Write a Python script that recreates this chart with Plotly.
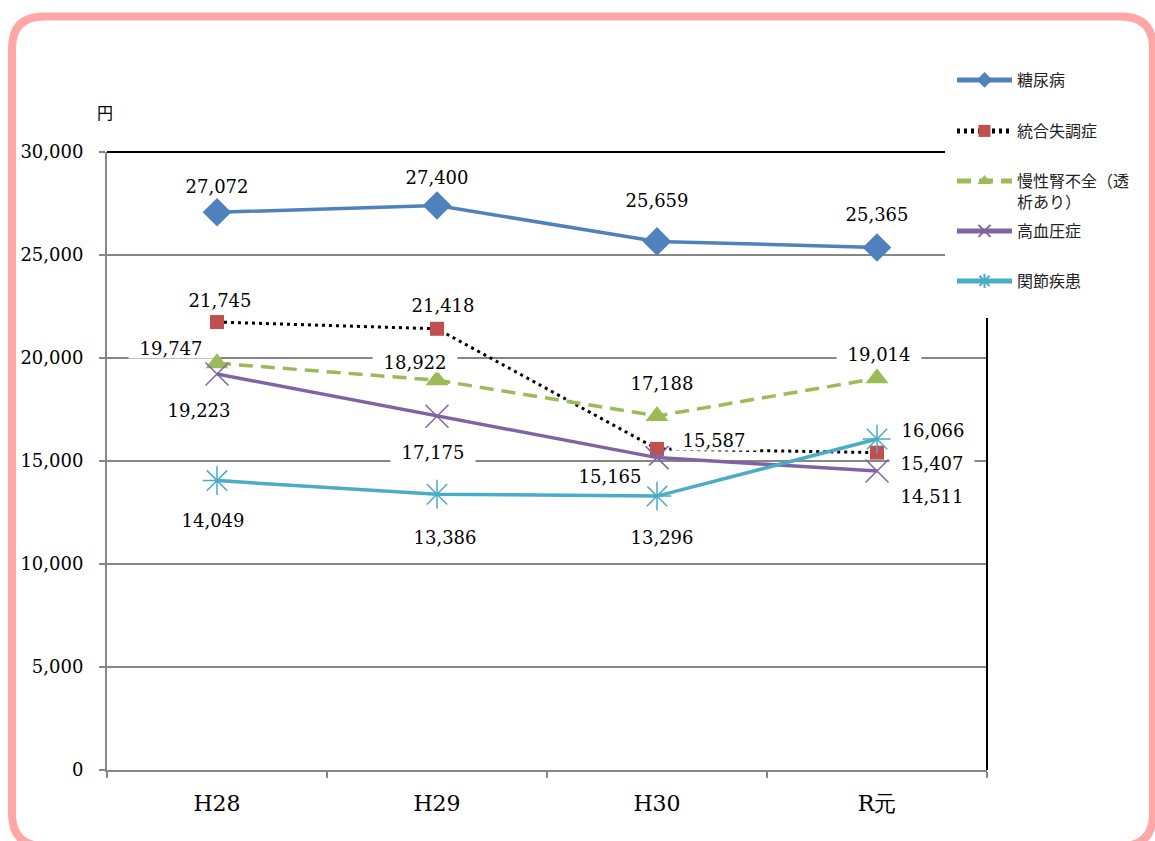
import plotly.graph_objects as go

# ---- data ----
categories = ["H28", "H29", "H30", "R元"]
diabetes = [27072, 27400, 25659, 25365]          # 糖尿病
schizophrenia = [21745, 21418, 15587, 15407]     # 統合失調症
renal = [19747, 18922, 17188, 19014]             # 慢性腎不全（透析あり）
hypertension = [19223, 17175, 15165, 14511]      # 高血圧症
joint = [14049, 13386, 13296, 16066]             # 関節疾患
series_names = ["糖尿病", "統合失調症", "慢性腎不全（透<br>析あり）", "高血圧症", "関節疾患"]
y_ticks = [0, 5000, 10000, 15000, 20000, 25000, 30000]

# ---- label offsets (px: dx, dy up) ----
label_offsets = [
    [(0, 26), (0, 29), (0, 41), (0, 33)],
    [(3, 22), (6, 24), (57, 9), (55, -10)],
    [(-46, 15), (-22, 18), (5, 33), (2, 24)],
    [(-18, -36), (-4, -36), (-47, -18), (55, -25)],
    [(-4, -39), (8, -43), (5, -41), (56, 9)],
]
legend_centers = [80, 131, 181, 231, 281]

W, H = 1155, 841
L, R, T, B = 107, 987, 152, 770
YMAX = 30000


def px(x, y):
    return (x - L) / (R - L), (B - y) / (B - T)


colors = ["#4F81BD", "#C0504D", "#9BBB59", "#8064A2", "#4BACC6"]
all_series = [diabetes, schizophrenia, renal, hypertension, joint]
line_styles = [
    dict(color=colors[0], width=3.5),
    dict(color="black", width=3, dash="3px,4px"),
    dict(color=colors[2], width=3.5, dash="14px,8px"),
    dict(color=colors[3], width=3.5),
    dict(color=colors[4], width=3.5),
]
markers = [
    dict(symbol="diamond", size=22, color=colors[0]),
    dict(symbol="square", size=14, color=colors[1]),
    dict(symbol="triangle-up", size=20, color=colors[2]),
    dict(symbol="x-thin-open", size=23, color=colors[3], line=dict(width=1.5, color=colors[3])),
    dict(symbol="asterisk-open", size=24, color=colors[4], line=dict(width=1.5, color=colors[4])),
]

legend_names = ["legend", "legend2", "legend3", "legend4", "legend5"]

fig = go.Figure()
for i, vals in enumerate(all_series):
    fig.add_trace(go.Scatter(
        x=categories, y=vals, name=series_names[i], mode="lines+markers",
        line=line_styles[i], marker=markers[i], legend=legend_names[i],
        cliponaxis=False,
    ))

num_font = dict(family="DejaVu Serif", size=18, color="black")
annotations = []
for i, vals in enumerate(all_series):
    for j, v in enumerate(vals):
        dx, dy = label_offsets[i][j]
        annotations.append(dict(
            x=categories[j], y=v, xref="x", yref="y", text=f"{v:,}",
            showarrow=False, xshift=dx, yshift=dy, font=num_font,
            bgcolor="white", width=84, height=20, borderpad=0,
        ))

annotations.append(dict(x=px(105, 112)[0], y=px(105, 112)[1], xref="paper", yref="paper",
                        xanchor="center", yanchor="middle",
                        text="円", showarrow=False,
                        font=dict(family="Noto Sans CJK JP", size=16, color="black")))


# pink rounded border
def rounded_path(x0, y0, x1, y1, r):
    def P(x, y):
        a, b = px(x, y)
        return f"{a:.5f},{b:.5f}"
    d = f"M {P(x0 + r, y0)} L {P(x1 - r, y0)} Q {P(x1, y0)} {P(x1, y0 + r)} "
    d += f"L {P(x1, y1 - r)} Q {P(x1, y1)} {P(x1 - r, y1)} "
    d += f"L {P(x0 + r, y1)} Q {P(x0, y1)} {P(x0, y1 - r)} "
    d += f"L {P(x0, y0 + r)} Q {P(x0, y0)} {P(x0 + r, y0)} Z"
    return d


cx0, _ = px(945, 0)
_, cy0 = px(0, 318)
shapes = [
    dict(type="rect", xref="paper", yref="paper", x0=cx0, x1=px(1150, 0)[0], y0=cy0, y1=px(0, 40)[1],
         fillcolor="white", line=dict(width=0), layer="above"),
    dict(type="line", xref="paper", yref="paper", x0=0, x1=cx0, y0=1, y1=1,
         line=dict(color="black", width=2), layer="above"),
    dict(type="line", xref="paper", yref="paper", x0=1, x1=1, y0=0, y1=cy0,
         line=dict(color="black", width=2), layer="above"),
    dict(type="path", xref="paper", yref="paper", path=rounded_path(12, 16.5, 1153, 846, 32),
         line=dict(color="#FFA6A6", width=8), layer="above"),
]

layout_legends = {}
for i, ln in enumerate(legend_names):
    layout_legends[ln] = dict(
        x=px(952, 0)[0], y=px(0, legend_centers[i] - 17)[1], xanchor="left", yanchor="top",
        font=dict(family="Noto Sans CJK JP", size=16, color="#222"),
        bgcolor="rgba(255,255,255,0)", itemwidth=55,
        itemsizing="constant", valign="top",
    )

fig.update_layout(
    width=W, height=H,
    margin=dict(l=L, r=W - R, t=T, b=H - B, pad=0),
    paper_bgcolor="white", plot_bgcolor="white",
    showlegend=True,
    xaxis=dict(
        type="category", range=[-0.5, 3.5], showgrid=False,
        showline=True, linecolor="#868686", linewidth=2,
        ticks="outside", tickson="boundaries", ticklen=6, tickcolor="#868686", tickwidth=2,
        tickfont=dict(family="DejaVu Serif", size=22, color="black"),
        ticklabelstandoff=13,
    ),
    yaxis=dict(
        range=[0, YMAX], tickvals=y_ticks, ticktext=[f"{v:,}" for v in y_ticks],
        showgrid=True, gridcolor="#868686", gridwidth=1.5, zeroline=False,
        showline=True, linecolor="#868686", linewidth=2,
        ticks="outside", ticklen=6, tickcolor="#868686", tickwidth=2,
        tickfont=num_font, ticklabelstandoff=12,
    ),
    annotations=annotations, shapes=shapes,
    **layout_legends,
)

fig.write_html("out.html")
